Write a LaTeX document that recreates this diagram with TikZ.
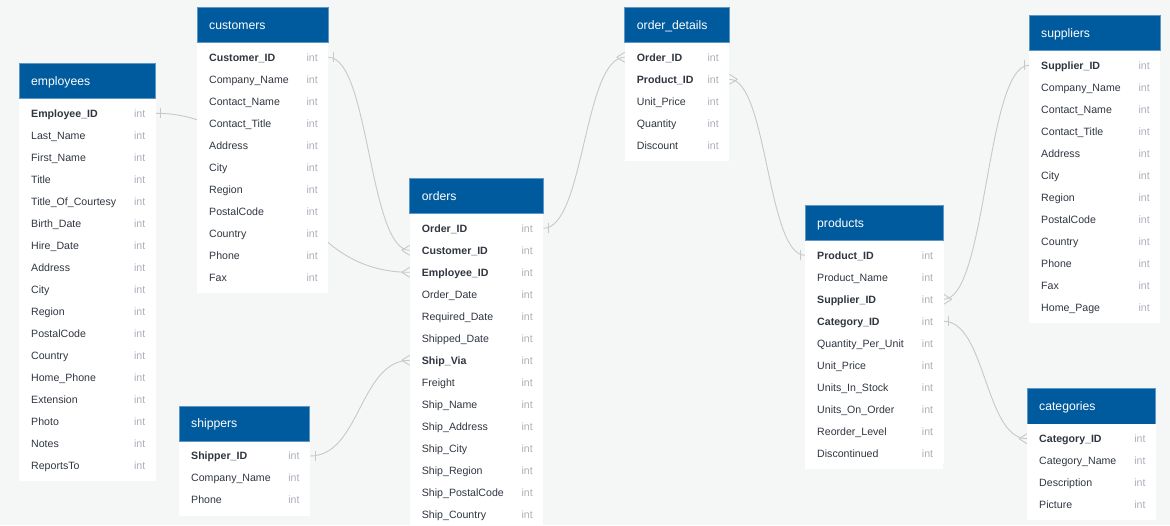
\documentclass[tikz,border=0pt]{standalone}
\usepackage{fontspec}
\setmainfont{Liberation Sans}
\usetikzlibrary{positioning,calc}
\definecolor{hdrblue}{RGB}{0,91,158}
\definecolor{hdrline}{RGB}{95,150,200}
\definecolor{paper}{RGB}{245,246,246}
\definecolor{fieldtext}{RGB}{48,54,64}
\definecolor{typetext}{RGB}{170,176,186}
\definecolor{linkgray}{RGB}{200,200,200}
\pgfdeclarelayer{bg}
\pgfdeclarelayer{links}
\pgfsetlayers{bg,links,main}
\tikzset{
  tbltitle/.style={anchor=west,inner sep=0pt,text=white,font=\fontsize{12.2}{14}\selectfont,text height=8.7pt,text depth=0pt},
  rowbox/.style={anchor=west,inner sep=0pt,minimum height=22pt,fill=white},
  field/.style={anchor=west,inner sep=0pt,text=fieldtext,font=\fontsize{10.6}{12}\selectfont,text height=7.6pt,text depth=0pt},
  inttype/.style={field,text=typetext},
  link/.style={draw=linkgray,line width=.9pt}
}
\newcommand{\erdtable}[7]{%
  \fill[hdrblue,draw=hdrline,line width=.6pt] (#2,#3) rectangle ++(#4,35.3);
  \node[tbltitle] (#1) at (#2+12,#3+17.6) {#5};
  \fill[white] (#2,#3+35.6) rectangle ++(#4,29.9+22*#6-22);
  \foreach \fname/\fkey [count=\i] in {#7} {
    \node[rowbox,minimum width=#4] (#1-\i) at (#2,#3+28+22*\i) {};
    \node[field] at ([xshift=12]#1-\i.west) {\ifnum\fkey=1 \bfseries\fi\fname};
    \node[inttype] at ([xshift=-22]#1-\i.east) {int};
  }
}
\newcommand{\onebar}[2]{\draw[link] ([xshift=#2,yshift=5]#1) -- ([xshift=#2,yshift=-5]#1);}
\newcommand{\crowfoot}[2]{\draw[link] ([xshift=#2]#1) -- ([yshift=5]#1) ([xshift=#2]#1) -- ([yshift=-5]#1);}

\begin{document}
\begin{tikzpicture}[x=1pt,y=-1pt]
\useasboundingbox (0,0) rectangle (1170,525);
\begin{pgfonlayer}{bg}
\fill[paper] (0,0) rectangle (1170,525);
\end{pgfonlayer}

\erdtable{emp}{19}{63.3}{136.5}{employees}{17}{Employee\_ID/1, Last\_Name/0, First\_Name/0, Title/0, Title\_Of\_Courtesy/0, Birth\_Date/0, Hire\_Date/0, Address/0, City/0, Region/0, PostalCode/0, Country/0, Home\_Phone/0, Extension/0, Photo/0, Notes/0, ReportsTo/0}
\erdtable{cus}{197}{7.3}{131}{customers}{11}{Customer\_ID/1, Company\_Name/0, Contact\_Name/0, Contact\_Title/0, Address/0, City/0, Region/0, PostalCode/0, Country/0, Phone/0, Fax/0}
\erdtable{shp}{179}{406}{130.7}{shippers}{3}{Shipper\_ID/1, Company\_Name/0, Phone/0}
\erdtable{ord}{409.7}{178.3}{133.3}{orders}{14}{Order\_ID/1, Customer\_ID/1, Employee\_ID/1, Order\_Date/0, Required\_Date/0, Shipped\_Date/0, Ship\_Via/1, Freight/0, Ship\_Name/0, Ship\_Address/0, Ship\_City/0, Ship\_Region/0, Ship\_PostalCode/0, Ship\_Country/0}
\erdtable{od}{624.7}{7.3}{104.3}{order\_details}{5}{Order\_ID/1, Product\_ID/1, Unit\_Price/0, Quantity/0, Discount/0}
\erdtable{prod}{805}{205.3}{138.3}{products}{10}{Product\_ID/1, Product\_Name/0, Supplier\_ID/1, Category\_ID/1, Quantity\_Per\_Unit/0, Unit\_Price/0, Units\_In\_Stock/0, Units\_On\_Order/0, Reorder\_Level/0, Discontinued/0}
\erdtable{sup}{1029}{15.3}{131}{suppliers}{12}{Supplier\_ID/1, Company\_Name/0, Contact\_Name/0, Contact\_Title/0, Address/0, City/0, Region/0, PostalCode/0, Country/0, Phone/0, Fax/0, Home\_Page/0}
\erdtable{cat}{1027}{388.7}{128.7}{categories}{4}{Category\_ID/1, Category\_Name/0, Description/0, Picture/0}

\begin{pgfonlayer}{links}
\draw[link] (emp-1.east) .. controls +(127,0) and +(-127,0) .. (ord-3.west);
\draw[link] (cus-1.east) .. controls +(41,0) and +(-41,0) .. (ord-2.west);
\draw[link] (shp-1.east) .. controls +(50,0) and +(-50,0) .. (ord-7.west);
\draw[link] (ord-1.east) .. controls +(41,0) and +(-41,0) .. (od-1.west);
\draw[link] (od-2.east) .. controls +(38,0) and +(-38,0) .. (prod-1.west);
\draw[link] (prod-3.east) .. controls +(43,0) and +(-43,0) .. (sup-1.west);
\draw[link] (prod-4.east) .. controls +(42,0) and +(-42,0) .. (cat-1.west);
\onebar{emp-1.east}{5}
\onebar{cus-1.east}{5}
\onebar{shp-1.east}{5}
\onebar{ord-1.east}{5}
\onebar{prod-1.west}{-5}
\onebar{sup-1.west}{-5}
\onebar{prod-4.east}{5}
\crowfoot{ord-3.west}{-8}
\crowfoot{ord-2.west}{-8}
\crowfoot{ord-7.west}{-8}
\crowfoot{od-1.west}{-8}
\crowfoot{od-2.east}{8}
\crowfoot{prod-3.east}{8}
\crowfoot{cat-1.west}{-8}
\end{pgfonlayer}
\end{tikzpicture}
\end{document}
